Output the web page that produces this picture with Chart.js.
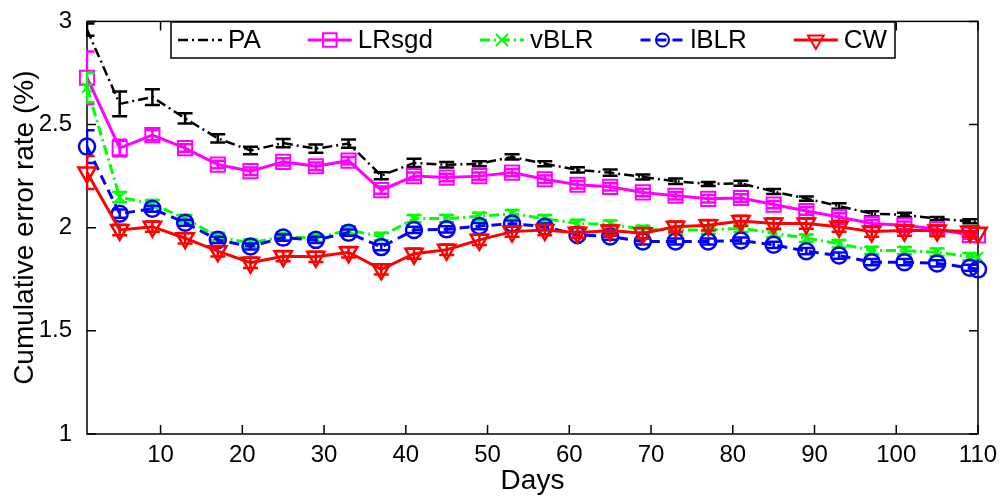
<!DOCTYPE html>
<html><head><meta charset="utf-8">
<script src="https://cdn.jsdelivr.net/npm/chart.js@4/dist/chart.umd.min.js"></script>
<style>html,body{margin:0;padding:0;background:#fff;overflow:hidden}#wrap{width:1004px;height:500px;position:relative}</style>
</head><body><div id="wrap"><canvas id="c" width="1004" height="500"></canvas></div>
<script>
const days = [1,5,9,13,17,21,25,29,33,37,41,45,49,53,57,61,65,69,73,77,81,85,89,93,97,101,105,109,110];
const seriesNames = ['PA','LRsgd','vBLR','lBLR','CW'];
const paValues    = [2.96,2.60,2.633,2.53,2.433,2.374,2.41,2.383,2.408,2.252,2.314,2.305,2.31,2.343,2.31,2.28,2.267,2.246,2.225,2.212,2.215,2.175,2.141,2.105,2.068,2.062,2.044,2.031,2.03];
const lrsgdValues = [2.727,2.386,2.449,2.386,2.306,2.274,2.319,2.298,2.325,2.182,2.25,2.243,2.25,2.267,2.235,2.208,2.198,2.171,2.155,2.14,2.144,2.112,2.081,2.052,2.02,2.012,1.992,1.965,1.963];
const vblrValues  = [2.679,2.148,2.116,2.044,1.957,1.925,1.957,1.949,1.989,1.957,2.044,2.044,2.055,2.068,2.044,2.02,2.017,1.992,1.989,1.989,1.997,1.973,1.949,1.922,1.89,1.889,1.881,1.859,1.857];
const lblrValues  = [2.393,2.068,2.092,2.024,1.941,1.909,1.952,1.941,1.976,1.906,1.989,1.992,2.008,2.02,2.005,1.965,1.957,1.933,1.933,1.933,1.938,1.917,1.886,1.865,1.833,1.833,1.827,1.806,1.798];
const cwValues    = [2.267,1.989,2.005,1.949,1.886,1.83,1.862,1.859,1.881,1.798,1.874,1.893,1.941,1.981,1.989,1.976,1.986,1.973,2.005,2.012,2.033,2.02,2.02,2.005,1.981,1.986,1.986,1.981,1.975];
const paErrors    = [0.03,0.06,0.038,0.025,0.02,0.018,0.02,0.02,0.02,0.017,0.02,0.013,0.012,0.013,0.012,0.013,0.015,0.012,0.013,0.01,0.012,0.012,0.01,0.013,0.012,0.01,0.008,0.01,0];
const lrsgdErrors = [0.127,0.04,0.025,0.018,0.018,0.018,0.018,0.018,0.018,0.018,0.018,0.018,0.018,0.018,0.018,0.018,0.018,0.018,0.018,0.018,0.018,0.018,0.018,0.018,0.018,0.018,0.018,0.018,0];
const vblrErrors  = [0.071,0.025,0.018,0.018,0.018,0.018,0.018,0.018,0.018,0.018,0.018,0.018,0.018,0.018,0.018,0.018,0.018,0.018,0.018,0.018,0.018,0.018,0.018,0.018,0.018,0.018,0.018,0.018,0];
const lblrErrors  = [0.079,0.02,0.015,0.015,0.015,0.015,0.015,0.015,0.015,0.015,0.015,0.015,0.015,0.015,0.015,0.015,0.015,0.015,0.015,0.015,0.015,0.015,0.015,0.015,0.015,0.015,0.015,0.015,0];
const cwErrors    = [0.08,0.025,0.025,0.025,0.025,0.025,0.025,0.025,0.025,0.025,0.025,0.025,0.025,0.025,0.025,0.025,0.025,0.025,0.025,0.025,0.025,0.025,0.025,0.025,0.025,0.025,0.025,0.025,0];
const xTicks = [10,20,30,40,50,60,70,80,90,100,110];
const yTicks = [1,1.5,2,2.5,3];
const yTickLabels = ['1','1.5','2','2.5','3'];
const xTitle = 'Days';
const yTitle = 'Cumulative error rate (%)';

const FONT = '"Liberation Sans", Arial, Helvetica, sans-serif';
const pts = vals => days.map((d,i)=>({x:d,y:vals[i]}));

const styles = [
  {color:'#000000', dash:[10,4,2,4], width:2.5, pointStyle:'circle', radius:0, bw:0, rot:0, lr:0},
  {color:'#ff00ff', dash:[], width:3, pointStyle:'rect', radius:10, bw:2, rot:0, lr:8},
  {color:'#00ff00', dash:[10,4,2,4], width:3, pointStyle:'crossRot', radius:7, bw:2, rot:0, lr:6},
  {color:'#0000ff', dash:[10,6], width:3, pointStyle:'circle', radius:8, bw:2.5, rot:0, lr:6.5},
  {color:'#ff0000', dash:[], width:3, pointStyle:'triangle', radius:10, bw:2.5, rot:180, lr:9}
];
const allValues = [paValues, lrsgdValues, vblrValues, lblrValues, cwValues];
const allErrors = [paErrors, lrsgdErrors, vblrErrors, lblrErrors, cwErrors];

const datasets = seriesNames.map((name,i)=>({
  label:name,
  data:pts(allValues[i]),
  errors:allErrors[i],
  borderColor:styles[i].color,
  backgroundColor:'rgba(0,0,0,0)',
  borderWidth:styles[i].width,
  borderDash:styles[i].dash,
  pointStyle:styles[i].pointStyle,
  pointRadius:styles[i].radius,
  pointBorderWidth:styles[i].bw,
  pointRotation:styles[i].rot,
  pointBorderColor:styles[i].color,
  pointBackgroundColor:'rgba(0,0,0,0)',
  legendRadius:styles[i].lr,
  tension:0,
  clip:false,
  order:5-i
}));

const errorBars = {
  id:'errorBars',
  afterDatasetDraw(chart, args){
    const ds = chart.data.datasets[args.index];
    if(!ds.errors) return;
    const {ctx, chartArea, scales:{y}} = chart;
    ctx.save();
    ctx.beginPath();
    ctx.rect(chartArea.left-1, 0, chart.width, chart.height);
    ctx.clip();
    ctx.strokeStyle = ds.borderColor;
    ctx.lineWidth = 2.5;
    ctx.setLineDash([]);
    ctx.beginPath();
    const cap = 7.5;
    args.meta.data.forEach((p,i)=>{
      const e = ds.errors[i];
      if(!e) return;
      const v = ds.data[i].y;
      const yt = y.getPixelForValue(v+e), yb = y.getPixelForValue(v-e);
      ctx.moveTo(p.x, yt); ctx.lineTo(p.x, yb);
      ctx.moveTo(p.x-cap, yt); ctx.lineTo(p.x+cap, yt);
      ctx.moveTo(p.x-cap, yb); ctx.lineTo(p.x+cap, yb);
    });
    ctx.stroke();
    ctx.restore();
  }
};

const axisBox = {
  id:'axisBox',
  beforeDatasetsDraw(chart){
    const {ctx, chartArea:{left,right,top,bottom}, scales:{x,y}} = chart;
    ctx.save();
    ctx.strokeStyle='#000'; ctx.lineWidth=1.5; ctx.setLineDash([]);
    ctx.strokeRect(left, top, right-left, bottom-top);
    ctx.beginPath();
    const L=9;
    x.ticks.forEach(t=>{const px=x.getPixelForValue(t.value); ctx.moveTo(px,bottom); ctx.lineTo(px,bottom-L); ctx.moveTo(px,top); ctx.lineTo(px,top+L);});
    y.ticks.forEach(t=>{const py=y.getPixelForValue(t.value); ctx.moveTo(left,py); ctx.lineTo(left+L,py); ctx.moveTo(right,py); ctx.lineTo(right-L,py);});
    ctx.stroke();
    ctx.restore();
  }
};

function drawMarker(ctx, style, r, x, y){
  ctx.beginPath();
  if(style==='rect'){ const s=r*0.85; ctx.rect(x-s,y-s,2*s,2*s); }
  else if(style==='circle'){ ctx.arc(x,y,r,0,Math.PI*2); }
  else if(style==='crossRot'){ ctx.moveTo(x-r,y-r); ctx.lineTo(x+r,y+r); ctx.moveTo(x+r,y-r); ctx.lineTo(x-r,y+r); }
  else if(style==='triangle'){ ctx.moveTo(x-r*0.87,y-r*0.5); ctx.lineTo(x+r*0.87,y-r*0.5); ctx.lineTo(x,y+r); ctx.closePath(); }
  ctx.stroke();
}

const matLegend = {
  id:'matLegend',
  afterDraw(chart){
    const ctx = chart.ctx;
    ctx.save();
    ctx.font = '26px ' + FONT;
    const bx=171, by=22, bw=724, bh=36;
    ctx.fillStyle='#fff'; ctx.fillRect(bx,by,bw,bh);
    ctx.strokeStyle='#000'; ctx.lineWidth=1.5; ctx.setLineDash([]);
    ctx.strokeRect(bx,by,bw,bh);
    let cx = 178; const cy = 40;
    chart.data.datasets.forEach(ds=>{
      ctx.strokeStyle = ds.borderColor; ctx.lineWidth = ds.borderWidth;
      ctx.setLineDash(ds.borderDash||[]);
      ctx.beginPath(); ctx.moveTo(cx,cy); ctx.lineTo(cx+44,cy); ctx.stroke();
      ctx.setLineDash([]);
      if(ds.legendRadius>0){ ctx.lineWidth=2; drawMarker(ctx, ds.pointStyle, ds.legendRadius, cx+22, cy); }
      ctx.fillStyle='#000'; ctx.textBaseline='middle'; ctx.textAlign='left';
      ctx.fillText(ds.label, cx+50, cy+1);
      cx += 50 + ctx.measureText(ds.label).width + 47;
    });
    ctx.restore();
  }
};

new Chart(document.getElementById('c'), {
  type:'line',
  data:{datasets},
  options:{
    responsive:false, animation:false, events:[],
    layout:{padding:{top:14,right:26,left:0,bottom:0}},
    plugins:{legend:{display:false}, tooltip:{enabled:false}},
    scales:{
      x:{type:'linear', min:1, max:110,
        afterBuildTicks:s=>{s.ticks = xTicks.map(v=>({value:v}));},
        afterFit:s=>{s.height=66;},
        grid:{display:false}, border:{display:false},
        ticks:{color:'#000', font:{family:FONT,size:24}, padding:-1, maxRotation:0, autoSkip:false},
        title:{display:true, text:xTitle, color:'#000', font:{family:FONT,size:28}, padding:{top:0,bottom:2}}
      },
      y:{type:'linear', min:1, max:3,
        afterBuildTicks:s=>{s.ticks = yTicks.map(v=>({value:v}));},
        afterFit:s=>{s.width=87;},
        grid:{display:false}, border:{display:false},
        ticks:{color:'#000', font:{family:FONT,size:24}, padding:7, autoSkip:false,
          callback:(v)=>{const k=yTicks.indexOf(v); return k>=0?yTickLabels[k]:'';}},
        title:{display:true, text:yTitle, color:'#000', font:{family:FONT,size:28}, padding:{top:8,bottom:0}}
      }
    }
  },
  plugins:[axisBox, errorBars, matLegend]
});
</script></body></html>
